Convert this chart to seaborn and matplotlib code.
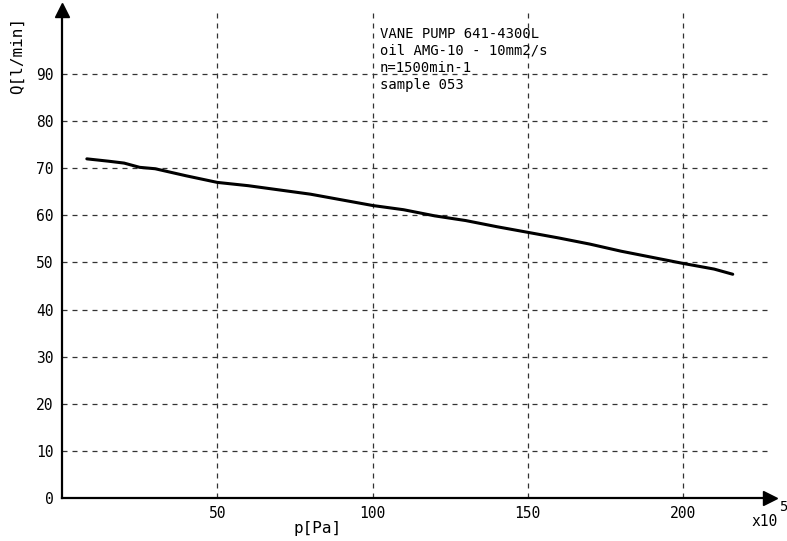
import matplotlib
matplotlib.use("Agg")
import matplotlib.pyplot as plt
import seaborn as sns
import pandas as pd

pressure = [8, 15, 20, 25, 30, 40, 50, 60, 70, 80, 90, 100, 110, 120,
            130, 140, 150, 160, 170, 180, 190, 200, 210, 216]
flow = [72.0, 71.5, 71.1, 70.2, 69.9, 68.4, 67.0, 66.3, 65.4, 64.5, 63.3, 62.1,
        61.2, 59.9, 58.9, 57.6, 56.4, 55.2, 53.9, 52.4, 51.1, 49.8, 48.6, 47.5]
x_ticks = [50, 100, 150, 200]
y_ticks = [0, 10, 20, 30, 40, 50, 60, 70, 80, 90]
info_lines = ["VANE PUMP 641-4300L", "oil AMG-10 - 10mm2/s",
              "n=1500min-1", "sample 053"]

sns.set_style("white")
plt.rcParams["font.family"] = ["DejaVu Sans Mono"]
plt.rcParams["text.color"] = "black"

df = pd.DataFrame({"p": pressure, "Q": flow})

fig = plt.figure(figsize=(7.87, 5.41), dpi=100)
ax = fig.add_axes([62 / 787, 43 / 541, (770 - 62) / 787, (498 - 10) / 541])

sns.lineplot(data=df, x="p", y="Q", color="black", linewidth=2.2, ax=ax)

ax.set_xlim(0, 228)
ax.set_ylim(0, 103.6)
ax.set_xticks(x_ticks)
ax.set_yticks(y_ticks)
ax.tick_params(length=0, labelsize=10.5, pad=6, labelcolor="black")
ax.grid(True, linestyle=(0, (4, 4)), color="#333333", linewidth=0.9)
ax.set_axisbelow(True)
ax.set_xlabel("")
ax.set_ylabel("")

for s in ["top", "right"]:
    ax.spines[s].set_visible(False)
for s in ["left", "bottom"]:
    ax.spines[s].set_linewidth(1.6)
    ax.spines[s].set_color("black")

# arrow heads on the axes
ax.plot(1, 0, ">", color="black", markersize=10, transform=ax.get_yaxis_transform(), clip_on=False)
ax.plot(0, 1, "^", color="black", markersize=10, transform=ax.get_xaxis_transform(), clip_on=False)

fig.text(17 / 787, 1 - 56 / 541, "Q[l/min]", rotation=90, ha="center", va="center", fontsize=11.5)
fig.text(318 / 787, 1 - 528 / 541, "p[Pa]", ha="center", va="center", fontsize=11.5)
fig.text(783 / 787, 1 - 507 / 541, "5", ha="center", va="center", fontsize=10)
fig.text(765 / 787, 1 - 522 / 541, "x10", ha="center", va="center", fontsize=10.5)

fig.text(380 / 787, 1 - 27 / 541, "\n".join(info_lines), ha="left", va="top",
         fontsize=10, linespacing=1.27)

fig.savefig("out.png", dpi=100)
